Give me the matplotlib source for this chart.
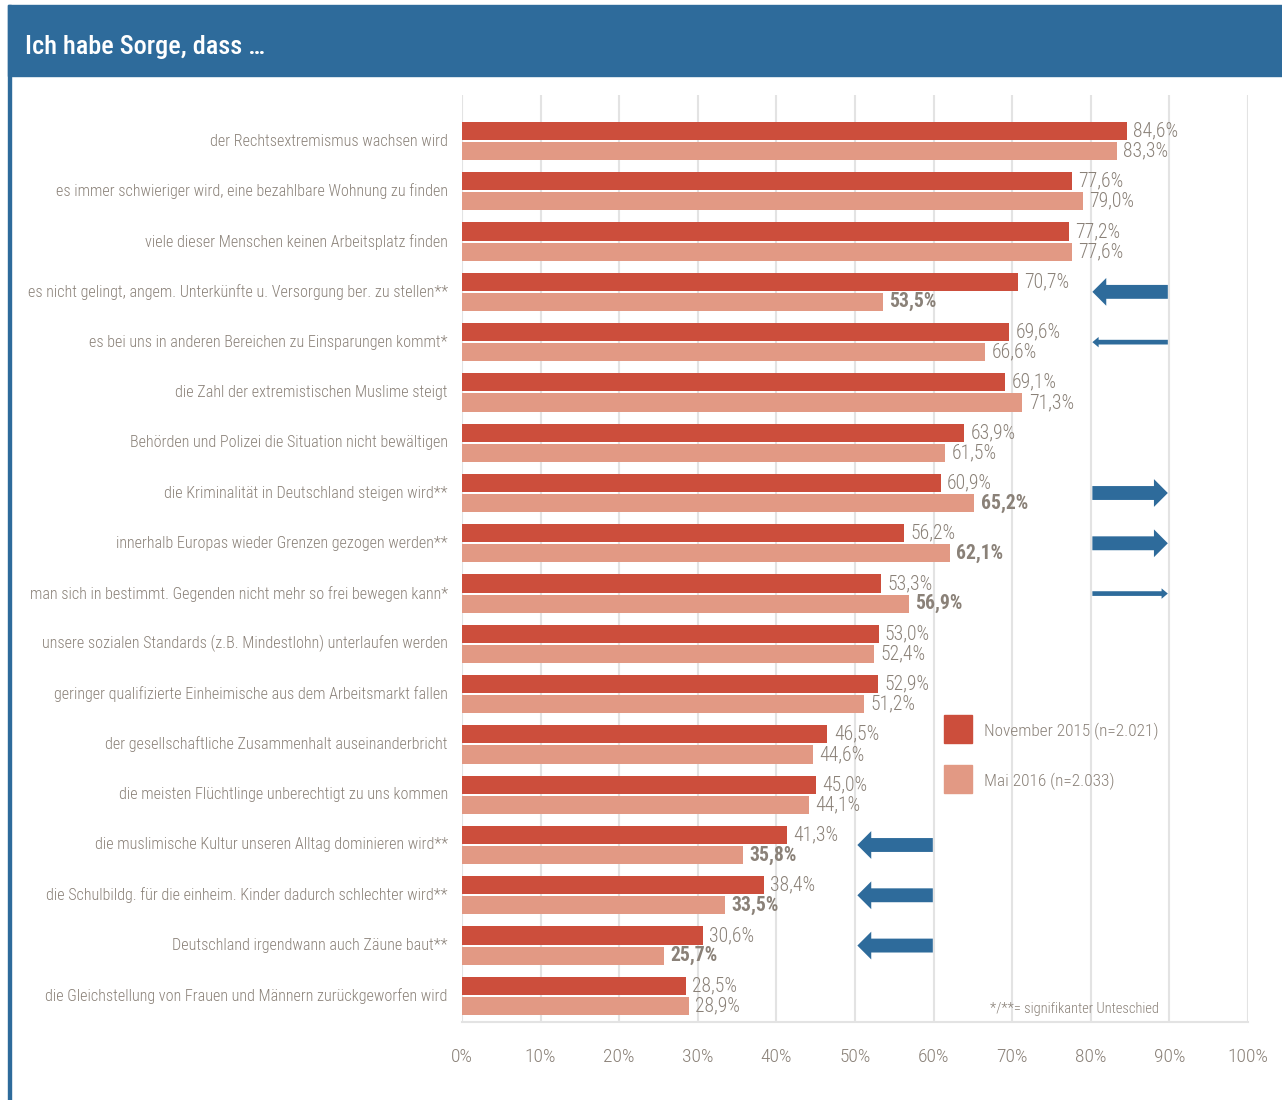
import matplotlib.pyplot as plt
from matplotlib.patches import Rectangle, FancyArrowPatch
from matplotlib import font_manager
import numpy as np

# pick a narrow family if one is installed, else DejaVu Sans Condensed
installed = {f.name for f in font_manager.fontManager.ttflist}
narrow = [n for n in ['Liberation Sans Narrow', 'Roboto Condensed',
                      'Open Sans Condensed', 'Noto Sans Condensed'] if n in installed]
plt.rcParams['font.family'] = narrow[:1] + ['DejaVu Sans']
plt.rcParams['font.stretch'] = 'condensed'
plt.rcParams['font.weight'] = 'light'

categories = [
    "der Rechtsextremismus wachsen wird",
    "es immer schwieriger wird, eine bezahlbare Wohnung zu finden",
    "viele dieser Menschen keinen Arbeitsplatz finden",
    "es nicht gelingt, angem. Unterkünfte u. Versorgung ber. zu stellen**",
    "es bei uns in anderen Bereichen zu Einsparungen kommt*",
    "die Zahl der extremistischen Muslime steigt",
    "Behörden und Polizei die Situation nicht bewältigen",
    "die Kriminalität in Deutschland steigen wird**",
    "innerhalb Europas wieder Grenzen gezogen werden**",
    "man sich in bestimmt. Gegenden nicht mehr so frei bewegen kann*",
    "unsere sozialen Standards (z.B. Mindestlohn) unterlaufen werden",
    "geringer qualifizierte Einheimische aus dem Arbeitsmarkt fallen",
    "der gesellschaftliche Zusammenhalt auseinanderbricht",
    "die meisten Flüchtlinge unberechtigt zu uns kommen",
    "die muslimische Kultur unseren Alltag dominieren wird**",
    "die Schulbildg. für die einheim. Kinder dadurch schlechter wird**",
    "Deutschland irgendwann auch Zäune baut**",
    "die Gleichstellung von Frauen und Männern zurückgeworfen wird",
]
nov2015 = [84.6, 77.6, 77.2, 70.7, 69.6, 69.1, 63.9, 60.9, 56.2, 53.3,
           53.0, 52.9, 46.5, 45.0, 41.3, 38.4, 30.6, 28.5]
mai2016 = [83.3, 79.0, 77.6, 53.5, 66.6, 71.3, 61.5, 65.2, 62.1, 56.9,
           52.4, 51.2, 44.6, 44.1, 35.8, 33.5, 25.7, 28.9]
bold_mai = [False, False, False, True, False, False, False, True, True, True,
            False, False, False, False, True, True, True, False]
# trend arrows: (row, direction, big)
arrows = [(3, 'left', True), (4, 'left', False), (7, 'right', True),
          (8, 'right', True), (9, 'right', False), (14, 'left', True),
          (15, 'left', True), (16, 'left', True)]

dark = '#CC4E3C'
light = '#E29984'
blue = '#2E6B9B'
grey = '#8A8178'

W, H = 1282, 1100
fig = plt.figure(figsize=(W / 100, H / 100), dpi=100)
renderer = fig.canvas.get_renderer()


def fit(texts, ref, target_px):
    # scale font size of a group of texts so that ref is target_px wide
    w = ref.get_window_extent(renderer).width
    s = ref.get_fontsize() * target_px / w
    for t in texts:
        t.set_fontsize(s)


# title bar and left border
fig.patches.append(Rectangle((8 / W, 1 - 76 / H), 1 - 8 / W, 71 / H,
                             transform=fig.transFigure, color=blue, zorder=0))
fig.patches.append(Rectangle((8 / W, 0), 2.5 / W, 1 - 5 / H,
                             transform=fig.transFigure, color=blue, zorder=0))
title = fig.text(25 / W, 1 - 47 / H, "Ich habe Sorge, dass …", color='white',
                 fontsize=23, va='center', ha='left', fontweight='medium')
fit([title], title, 240)

ax = fig.add_axes([462 / W, (H - 1022) / H, 786 / W, 927 / H])
y = np.arange(len(categories))
bh = 0.36
ax.barh(y - 0.2, nov2015, height=bh, color=dark, zorder=2)
ax.barh(y + 0.2, mai2016, height=bh, color=light, zorder=2)

fmt = lambda v: f"{v:.1f}%".replace('.', ',')
vals, labs = [], []
for i in range(len(categories)):
    vals.append(ax.text(nov2015[i] + 0.8, y[i] - 0.2, fmt(nov2015[i]),
                        color=grey, fontsize=13, va='center', ha='left'))
    vals.append(ax.text(mai2016[i] + 0.8, y[i] + 0.2, fmt(mai2016[i]),
                        color=grey, fontsize=13, va='center', ha='left',
                        fontweight='bold' if bold_mai[i] else 'light'))
    labs.append(ax.text(-1.8, y[i], categories[i], color=grey, fontsize=13,
                        va='center', ha='right'))
fit(vals, vals[0], 45)
fit(labs, labs[3], 418)

for row, d, big in arrows:
    x0, x1 = (89.8, 80.2) if row < 10 else (59.9, 50.3)
    if d == 'right':
        x0, x1 = x1, x0
    if big:
        style = 'simple,head_length=0.5,head_width=1.0,tail_width=0.5'
        ms = 20
    else:
        style = 'simple,head_length=0.6,head_width=1.0,tail_width=0.45'
        ms = 7.5
    ax.add_patch(FancyArrowPatch((x0, row), (x1, row), arrowstyle=style,
                                 mutation_scale=ms, color=blue, lw=0,
                                 shrinkA=0, shrinkB=0, zorder=3))

ax.set_xlim(0, 100)
ax.set_ylim(17.52, -0.915)
ax.set_xticks(np.arange(0, 101, 10))
ax.set_xticklabels([f"{t}%" for t in range(0, 101, 10)])
ax.tick_params(axis='x', length=0, pad=19, labelsize=14, labelcolor=grey)
ax.set_yticks([])
ax.grid(axis='x', color='#E3E3E3', lw=1.5, zorder=0)
for s in ['top', 'right', 'left']:
    ax.spines[s].set_visible(False)
ax.spines['bottom'].set_color('#E3E3E3')
ax.spines['bottom'].set_linewidth(1.5)

# legend
fig.patches.append(Rectangle((944 / W, 1 - 743 / H), 28 / W, 28 / H,
                             transform=fig.transFigure, color=dark))
fig.patches.append(Rectangle((944 / W, 1 - 793 / H), 28 / W, 28 / H,
                             transform=fig.transFigure, color=light))
leg1 = fig.text(984 / W, 1 - 731 / H, "November 2015 (n=2.021)", color=grey,
                fontsize=14.5, va='center')
leg2 = fig.text(984 / W, 1 - 781 / H, "Mai 2016 (n=2.033)", color=grey,
                fontsize=14.5, va='center')
fit([leg1, leg2], leg1, 175)
note = fig.text(990 / W, 1 - 1009 / H, "*/**= signifikanter Unteschied",
                color=grey, fontsize=11.5, va='center')
fit([note], note, 170)

fig.savefig('out.png', dpi=100)
